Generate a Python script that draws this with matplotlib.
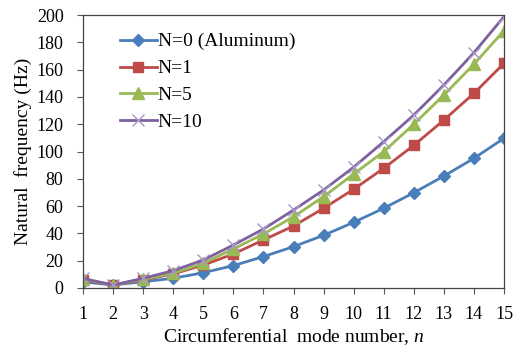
import matplotlib
matplotlib.use('Agg')
import matplotlib.pyplot as plt

# Mode numbers and natural frequencies (Hz) for each case
modes = list(range(1, 16))
freq_n0 = [4.5, 2.2, 4.6, 7.1, 11.2, 16.4, 23.0, 30.3, 38.6, 48.1, 58.4, 69.8, 82.0, 95.0, 109.7]
freq_n1 = [5.9, 2.2, 5.9, 10.3, 16.8, 24.9, 35.2, 45.4, 58.4, 72.3, 87.7, 104.5, 123.0, 142.6, 164.6]
freq_n5 = [6.4, 2.2, 6.4, 10.8, 18.1, 28.6, 39.6, 52.2, 66.9, 83.5, 99.9, 120.0, 141.4, 164.0, 188.5]
freq_n10 = [7.0, 2.2, 7.1, 12.7, 20.5, 31.5, 43.2, 57.1, 71.8, 88.5, 107.2, 126.7, 148.7, 172.4, 198.8]
series_labels = ['N=0 (Aluminum)', 'N=1', 'N=5', 'N=10']

plt.rcParams['font.family'] = ['Liberation Serif', 'DejaVu Serif']
plt.rcParams['mathtext.fontset'] = 'custom'
plt.rcParams['mathtext.it'] = 'Liberation Serif:italic'
plt.rcParams['mathtext.rm'] = 'Liberation Serif'

fig = plt.figure(figsize=(5.22, 3.52), dpi=100)
ax = fig.add_axes([83 / 522, 1 - 288 / 352, 421 / 522, 273 / 352])

ax.plot(modes, freq_n0, color='#4A7EBB', marker='D', markersize=6, lw=2, label=series_labels[0])
ax.plot(modes, freq_n1, color='#BE4B48', marker='s', markersize=7.5, lw=2, label=series_labels[1])
ax.plot(modes, freq_n5, color='#98B954', marker='^', markersize=8, lw=2, label=series_labels[2])
ax.plot(modes, freq_n10, color='#7D60A0', marker='x', markersize=8, mew=1, lw=2,
        markeredgecolor='#A898C8', label=series_labels[3])

ax.set_xlim(1, 15)
ax.set_ylim(0, 200)
ax.set_xticks(modes)
ax.set_yticks(range(0, 201, 20))
ax.tick_params(direction='out', length=4, labelsize=13, color='#555555')
ax.tick_params(axis='x', pad=9)
ax.tick_params(axis='y', pad=10)
for sp in ax.spines.values():
    sp.set_color('#444444')
    sp.set_linewidth(0.9)

ax.set_xlabel('Circumferential  mode number, $n$', fontsize=14, labelpad=2)
ax.set_ylabel('Natural  frequency (Hz)', fontsize=14, labelpad=3)

ax.legend(loc='upper left', bbox_to_anchor=(0.055, 0.985), frameon=False, fontsize=14,
          handlelength=1.9, handletextpad=0.05, labelspacing=0.48, borderaxespad=0.3)

fig.savefig('out.png', dpi=100)
